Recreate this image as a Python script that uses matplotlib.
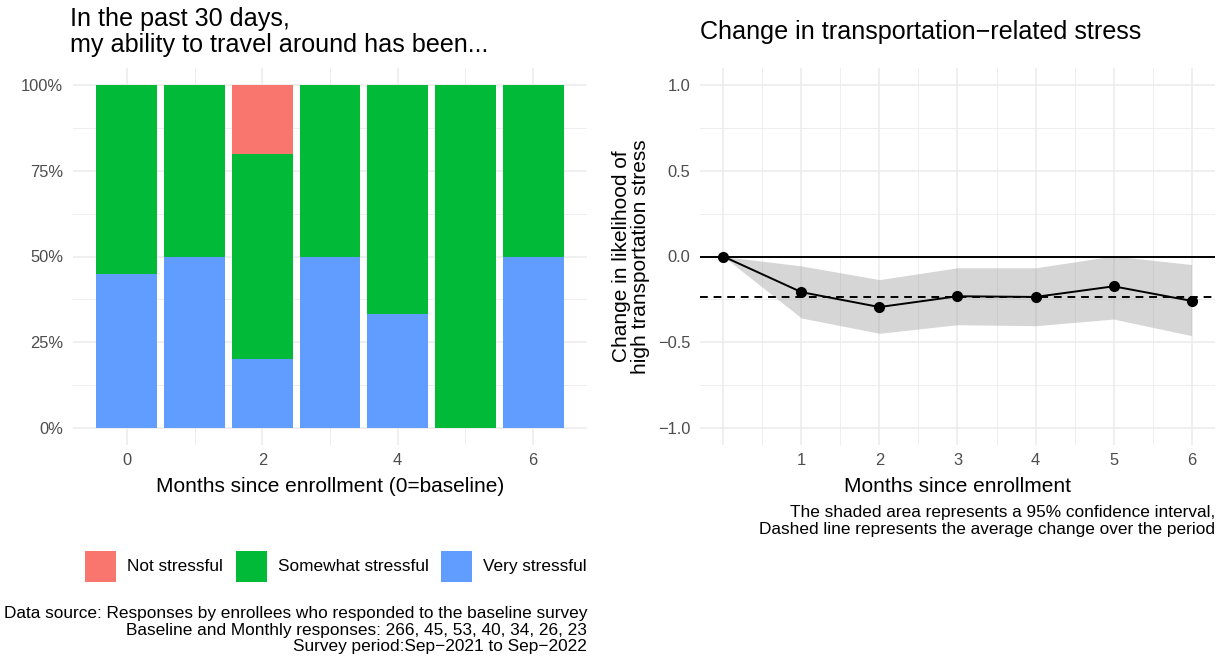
import matplotlib
matplotlib.use("Agg")
import matplotlib.pyplot as plt
import numpy as np
from matplotlib.patches import Patch
from matplotlib.ticker import FixedLocator, PercentFormatter

plt.rcParams['font.family'] = ['Liberation Sans', 'DejaVu Sans']
plt.rcParams['axes.unicode_minus'] = True

# ---------------- data ----------------
months = [0, 1, 2, 3, 4, 5, 6]
categories = ["Not stressful", "Somewhat stressful", "Very stressful"]
very_stressful = [0.45, 0.50, 0.20, 0.50, 0.333, 0.00, 0.50]
somewhat_stressful = [0.55, 0.50, 0.60, 0.50, 0.667, 1.00, 0.50]
not_stressful = [0.00, 0.00, 0.20, 0.00, 0.00, 0.00, 0.00]

change_est = [0.0, -0.208, -0.295, -0.232, -0.236, -0.174, -0.259]
ci_lower = [0.0, -0.359, -0.448, -0.398, -0.404, -0.365, -0.462]
ci_upper = [0.0, -0.055, -0.135, -0.066, -0.066, 0.003, -0.047]
right_xticks = [1, 2, 3, 4, 5, 6]

colors = {"Not stressful": "#F8766D", "Somewhat stressful": "#00BA38",
          "Very stressful": "#619CFF"}

W, H = 1225, 660
fig = plt.figure(figsize=(W / 100, H / 100), dpi=100)

def ax_rect(x0, x1, y0, y1):
    return [x0 / W, 1 - y1 / H, (x1 - x0) / W, (y1 - y0) / H]

GRID = "#EBEBEB"
TICKC = "#4D4D4D"
TS = 11.9     # tick labels
CS = 12.4     # captions / legend
AS = 15.0     # axis titles
TTS = 18.1    # plot titles

def style(ax):
    for s in ax.spines.values():
        s.set_visible(False)
    ax.set_axisbelow(True)
    ax.grid(True, which="major", color=GRID, lw=1.1)
    ax.grid(True, which="minor", color=GRID, lw=0.6)
    ax.tick_params(which="both", length=0, labelsize=TS, labelcolor=TICKC)
    ax.tick_params(axis="y", pad=7)
    ax.tick_params(axis="x", pad=6)

# ---------------- left panel ----------------
axL = fig.add_axes(ax_rect(73, 587, 68, 445))
style(axL)
x = np.array(months)
vs = np.array(very_stressful)
ss = np.array(somewhat_stressful)
ns = np.array(not_stressful)
axL.bar(x, vs, width=0.9, color=colors["Very stressful"], lw=0)
axL.bar(x, ss, width=0.9, bottom=vs, color=colors["Somewhat stressful"], lw=0)
axL.bar(x, ns, width=0.9, bottom=vs + ss, color=colors["Not stressful"], lw=0)
axL.set_xlim(-0.795, 6.795)
axL.set_ylim(-0.05, 1.05)
axL.xaxis.set_major_locator(FixedLocator([0, 2, 4, 6]))
axL.xaxis.set_minor_locator(FixedLocator([1, 3, 5]))
axL.yaxis.set_major_locator(FixedLocator([0, 0.25, 0.5, 0.75, 1.0]))
axL.yaxis.set_minor_locator(FixedLocator([0.125, 0.375, 0.625, 0.875]))
axL.yaxis.set_major_formatter(PercentFormatter(1.0, decimals=0))
axL.set_xlabel("Months since enrollment (0=baseline)", fontsize=AS, labelpad=6)

fig.text(70 / W, 1 - 32 / H, "In the past 30 days,\nmy ability to travel around has been...",
         fontsize=TTS, ha="left", va="center", linespacing=1.1)

fs_px = CS * 100 / 72
hh = (31 / fs_px - 0.245) / 0.65
handles = [Patch(facecolor=colors[c], edgecolor="none", label=c) for c in categories]
fig.legend(handles=handles, loc="center", bbox_to_anchor=(336 / W, 1 - 566 / H),
           ncol=3, frameon=False, fontsize=CS, handlelength=31 / fs_px, handleheight=hh,
           handletextpad=0.64, columnspacing=0.72, borderpad=0, borderaxespad=0)

fig.text(587 / W, 1 - 630 / H,
         "Data source: Responses by enrollees who responded to the baseline survey\n"
         "Baseline and Monthly responses: 266, 45, 53, 40, 34, 26, 23\n"
         "Survey period:Sep\u22122021 to Sep\u22122022",
         fontsize=CS, ha="right", va="center", linespacing=1.1, multialignment="right")

# ---------------- right panel ----------------
axR = fig.add_axes(ax_rect(700, 1215, 68, 445))
style(axR)
axR.fill_between(months, ci_lower, ci_upper, color="#999999", alpha=0.4, lw=0)
axR.axhline(0, color="black", lw=1.4)
avg_change = float(np.mean(change_est[1:]))
axR.axhline(avg_change, color="black", lw=1.4, ls=(0, (4, 3)))
axR.plot(months, change_est, color="black", lw=1.4, marker="o", ms=7)
axR.set_xlim(-0.3, 6.3)
axR.set_ylim(-1.1, 1.1)
axR.xaxis.set_major_locator(FixedLocator([0] + right_xticks))
axR.xaxis.set_minor_locator(FixedLocator([0.5, 1.5, 2.5, 3.5, 4.5, 5.5]))
axR.set_xticklabels([""] + [str(v) for v in right_xticks])
axR.yaxis.set_major_locator(FixedLocator([-1.0, -0.5, 0.0, 0.5, 1.0]))
axR.yaxis.set_minor_locator(FixedLocator([-0.75, -0.25, 0.25, 0.75]))
axR.set_yticklabels(["\u22121.0", "\u22120.5", "0.0", "0.5", "1.0"])
axR.set_xlabel("Months since enrollment", fontsize=AS, labelpad=6)
axR.set_ylabel("Change in likelihood of\nhigh transportation stress", fontsize=AS,
               labelpad=6, linespacing=1.0)

fig.text(700 / W, 1 - 32 / H, "Change in transportation\u2212related stress",
         fontsize=TTS, ha="left", va="center")

fig.text(1215 / W, 1 - 521 / H,
         "The shaded area represents a 95% confidence interval,\n"
         "Dashed line represents the average change over the period",
         fontsize=CS, ha="right", va="center", linespacing=1.1, multialignment="right")

fig.savefig("out.png", dpi=100, facecolor="white")
